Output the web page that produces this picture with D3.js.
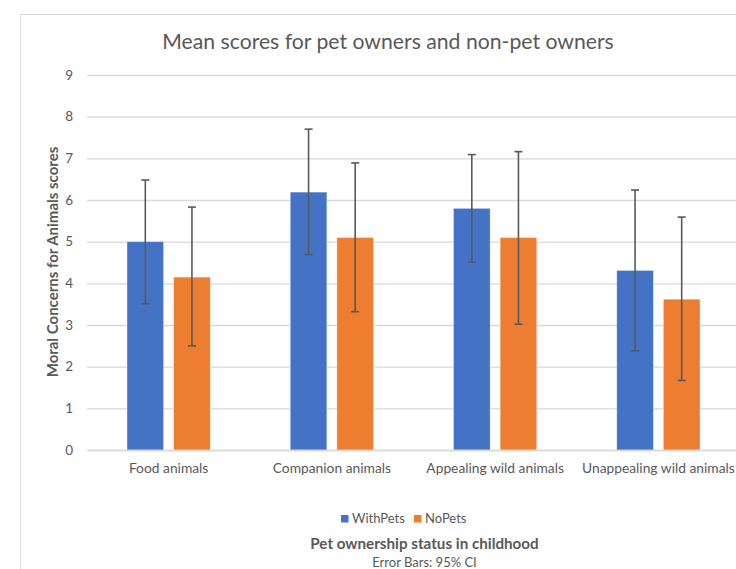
<!DOCTYPE html>
<html>
<head>
<meta charset="utf-8">
<script src="https://cdn.jsdelivr.net/npm/d3@7"></script>
<style>
  html, body { margin: 0; padding: 0; background: #fff; }
  svg { display: block; }
  text { font-family: Lato, "Open Sans", sans-serif; }
</style>
</head>
<body>
<div id="chart"></div>
<script>
const categories = ["Food animals", "Companion animals", "Appealing wild animals", "Unappealing wild animals"];
const seriesNames = ["WithPets", "NoPets"];
const withPets = [5.00, 6.19, 5.80, 4.31];
const withPetsLow = [3.51, 4.69, 4.51, 2.38];
const withPetsHigh = [6.48, 7.70, 7.09, 6.24];
const noPets = [4.15, 5.10, 5.10, 3.62];
const noPetsLow = [2.50, 3.32, 3.02, 1.67];
const noPetsHigh = [5.83, 6.89, 7.16, 5.59];
const yTicks = [0, 1, 2, 3, 4, 5, 6, 7, 8, 9];
const colors = ["#4472C4", "#ED7D31"];

const W = 736, H = 569;
const svg = d3.select("#chart").append("svg").attr("width", W).attr("height", H);

// chart frame
svg.append("rect").attr("x", 20.5).attr("y", 14.5).attr("width", 740).attr("height", 600)
  .attr("fill", "none").attr("stroke", "#d9d9d9").attr("stroke-width", 1);

const y = d3.scaleLinear().domain([0, 9]).range([450, 75]);
const x0 = d3.scaleBand().domain(categories).range([87, 740]).paddingInner(0.49).paddingOuter(0.245);
const x1 = d3.scaleBand().domain(seriesNames).range([0, x0.bandwidth()]).paddingInner(0.214).paddingOuter(0);

// gridlines + tick labels
const yAxis = d3.axisLeft(y).tickValues(yTicks).tickSize(-(740 - 87)).tickPadding(14);
const gy = svg.append("g").attr("transform", "translate(87,0)").call(yAxis);
gy.select(".domain").remove();
gy.selectAll(".tick line").attr("stroke", "#d9d9d9").attr("stroke-width", 1.3);
gy.selectAll(".tick text").attr("fill", "#595959").attr("font-size", 13.5)
  .style("font-family", "Lato, sans-serif");

// data table
const rows = categories.map((c, i) => ({
  cat: c,
  vals: [
    { s: "WithPets", v: withPets[i], lo: withPetsLow[i], hi: withPetsHigh[i] },
    { s: "NoPets", v: noPets[i], lo: noPetsLow[i], hi: noPetsHigh[i] }
  ]
}));

const groups = svg.append("g").selectAll("g").data(rows).join("g")
  .attr("transform", d => `translate(${x0(d.cat)},0)`);

groups.selectAll("rect").data(d => d.vals).join("rect")
  .attr("x", d => x1(d.s))
  .attr("y", d => y(d.v))
  .attr("width", x1.bandwidth())
  .attr("height", d => y(0) - y(d.v))
  .attr("fill", (d, i) => colors[i])
  .attr("stroke", "#ffffff").attr("stroke-opacity", 0.5).attr("stroke-width", 0.8);

// error bars
const eb = groups.selectAll("g.err").data(d => d.vals).join("g").attr("class", "err");
const cx = d => x1(d.s) + x1.bandwidth() / 2;
eb.append("line").attr("x1", cx).attr("x2", cx).attr("y1", d => y(d.lo)).attr("y2", d => y(d.hi))
  .attr("stroke", "#595959").attr("stroke-width", 1.6);
eb.append("line").attr("x1", d => cx(d) - 4).attr("x2", d => cx(d) + 4).attr("y1", d => y(d.hi)).attr("y2", d => y(d.hi))
  .attr("stroke", "#595959").attr("stroke-width", 1.6);
eb.append("line").attr("x1", d => cx(d) - 4).attr("x2", d => cx(d) + 4).attr("y1", d => y(d.lo)).attr("y2", d => y(d.lo))
  .attr("stroke", "#595959").attr("stroke-width", 1.6);

// x axis
const xAxis = d3.axisBottom(x0).tickSize(0).tickPadding(13);
const gx = svg.append("g").attr("transform", "translate(0,450)").call(xAxis);
gx.select(".domain").attr("stroke", "#d9d9d9").attr("stroke-width", 1.3);
gx.selectAll(".tick text").attr("fill", "#595959").attr("font-size", 13.8)
  .style("font-family", "Lato, sans-serif");

// title
svg.append("text").attr("x", 388).attr("y", 49).attr("text-anchor", "middle")
  .attr("font-size", 21.2).attr("fill", "#595959").text("Mean scores for pet owners and non-pet owners");

// y-axis title
svg.append("text").attr("transform", "translate(58,262) rotate(-90)").attr("text-anchor", "middle")
  .attr("font-size", 15).attr("font-weight", "bold").attr("fill", "#595959")
  .text("Moral Concerns for Animals scores");

// legend
const legend = svg.append("g");
const legendX = [341, 414];
seriesNames.forEach((s, i) => {
  legend.append("rect").attr("x", legendX[i]).attr("y", 515).attr("width", 7.5).attr("height", 7.5).attr("fill", colors[i]);
  legend.append("text").attr("x", legendX[i] + 11).attr("y", 523).attr("font-size", 13).attr("fill", "#595959").text(s);
});

// x-axis title and note
svg.append("text").attr("x", 424.5).attr("y", 549).attr("text-anchor", "middle")
  .attr("font-size", 15.2).attr("font-weight", "bold").attr("fill", "#595959")
  .text("Pet ownership status in childhood");
svg.append("text").attr("x", 424.5).attr("y", 567).attr("text-anchor", "middle")
  .attr("font-size", 13).attr("fill", "#595959").text("Error Bars: 95% CI");
</script>
</body>
</html>
